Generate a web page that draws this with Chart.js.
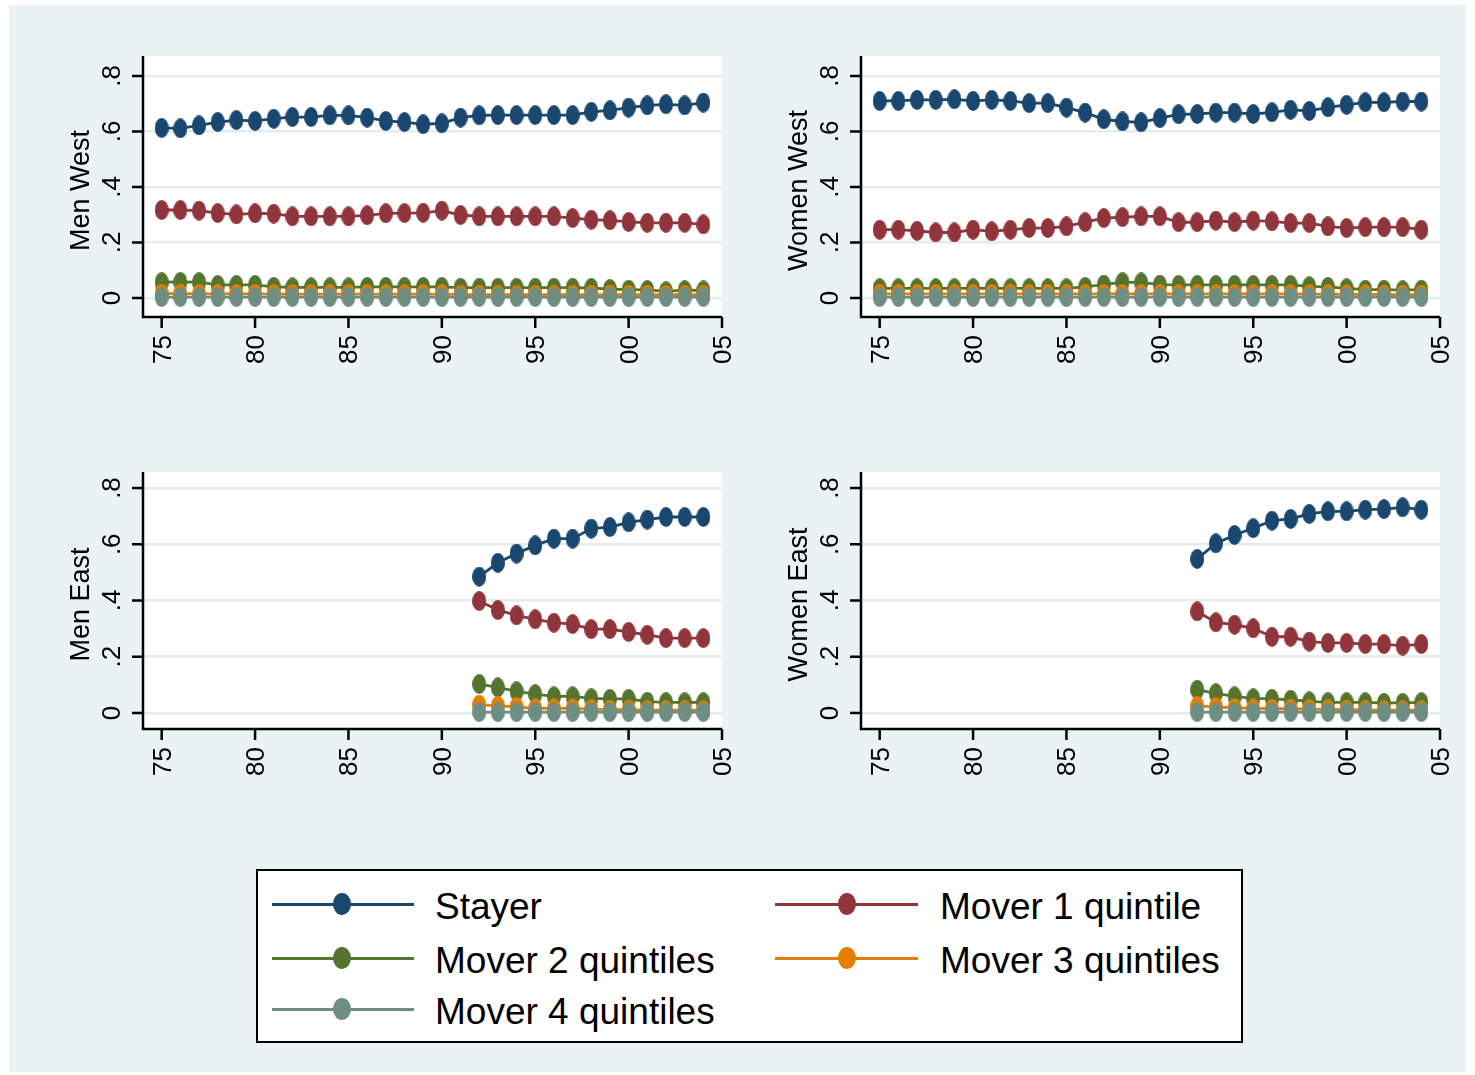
<!DOCTYPE html>
<html><head><meta charset="utf-8">
<script src="https://cdn.jsdelivr.net/npm/chart.js@4.4.1/dist/chart.umd.min.js"></script>
<style>
html,body{margin:0;padding:0;background:#fff;}
body{width:1475px;height:1075px;position:relative;overflow:hidden;font-family:"Liberation Sans",Arial,sans-serif;}
#bg{position:absolute;left:9px;top:5px;width:1457px;height:1067px;background:#EAF2F3;}
canvas{position:absolute;}
#legend{position:absolute;left:256px;top:869px;width:987px;height:174px;box-sizing:border-box;border:2px solid #000;background:#fff;}
.lg-line{position:absolute;height:3px;}
.lg-mark{position:absolute;width:18px;height:22px;border-radius:50%;}
.lg-text{position:absolute;font-size:37px;line-height:37px;white-space:nowrap;color:#000;}
</style></head>
<body>
<div id="bg"></div>
<canvas id="c1"></canvas>
<canvas id="c2"></canvas>
<canvas id="c3"></canvas>
<canvas id="c4"></canvas>
<div id="legend"></div>
<script>
// ---------- data ----------
const yearsWest = [1975,1976,1977,1978,1979,1980,1981,1982,1983,1984,1985,1986,1987,1988,1989,1990,1991,1992,1993,1994,1995,1996,1997,1998,1999,2000,2001,2002,2003,2004];
const yearsEast = [1992,1993,1994,1995,1996,1997,1998,1999,2000,2001,2002,2003,2004];
const xTickValues = [1975,1980,1985,1990,1995,2000,2005];
const xTickLabels = ["75","80","85","90","95","00","05"];
const yTickValues = [0,0.2,0.4,0.6,0.8];
const yTickLabels = ["0",".2",".4",".6",".8"];
const seriesNames = ["Stayer","Mover 1 quintile","Mover 2 quintiles","Mover 3 quintiles","Mover 4 quintiles"];
const seriesColors = ["#1a476f","#90353b","#55752f","#e37e00","#6e8e84"];

// Men West
const menWestStayer = [0.613,0.611,0.622,0.634,0.641,0.638,0.646,0.652,0.652,0.658,0.658,0.650,0.638,0.634,0.626,0.629,0.650,0.658,0.659,0.659,0.659,0.659,0.659,0.671,0.676,0.686,0.694,0.698,0.694,0.704];
const menWestMover1 = [0.317,0.317,0.315,0.306,0.301,0.305,0.304,0.294,0.294,0.294,0.294,0.298,0.305,0.306,0.307,0.315,0.299,0.294,0.294,0.294,0.294,0.294,0.288,0.282,0.280,0.274,0.271,0.271,0.271,0.265];
const menWestMover2 = [0.057,0.058,0.057,0.047,0.047,0.047,0.040,0.038,0.038,0.038,0.038,0.040,0.040,0.040,0.040,0.040,0.037,0.037,0.037,0.037,0.037,0.037,0.037,0.036,0.032,0.030,0.029,0.024,0.028,0.027];
const menWestMover3 = [0.016,0.016,0.015,0.015,0.015,0.015,0.014,0.014,0.014,0.014,0.014,0.014,0.014,0.014,0.014,0.014,0.012,0.012,0.012,0.012,0.012,0.012,0.012,0.012,0.012,0.012,0.012,0.012,0.012,0.012];
const menWestMover4 = [0.003,0.003,0.003,0.003,0.003,0.003,0.003,0.003,0.003,0.003,0.003,0.003,0.003,0.003,0.003,0.003,0.003,0.003,0.003,0.003,0.003,0.003,0.003,0.003,0.003,0.003,0.003,0.003,0.003,0.003];
// Women West
const womenWestStayer = [0.710,0.710,0.714,0.714,0.716,0.710,0.714,0.710,0.702,0.702,0.686,0.668,0.644,0.636,0.633,0.648,0.662,0.663,0.668,0.668,0.663,0.669,0.678,0.674,0.687,0.696,0.705,0.705,0.708,0.708];
const womenWestMover1 = [0.246,0.246,0.242,0.236,0.236,0.246,0.240,0.246,0.252,0.252,0.258,0.273,0.288,0.291,0.294,0.294,0.273,0.273,0.279,0.273,0.279,0.276,0.270,0.270,0.258,0.252,0.255,0.255,0.255,0.246];
const womenWestMover2 = [0.035,0.035,0.035,0.035,0.035,0.035,0.035,0.035,0.035,0.035,0.035,0.040,0.048,0.057,0.056,0.048,0.047,0.047,0.047,0.047,0.047,0.047,0.047,0.042,0.040,0.035,0.030,0.030,0.028,0.030];
const womenWestMover3 = [0.015,0.015,0.015,0.015,0.015,0.015,0.015,0.015,0.015,0.015,0.015,0.015,0.015,0.015,0.015,0.015,0.015,0.015,0.015,0.015,0.015,0.015,0.015,0.014,0.014,0.013,0.013,0.012,0.012,0.012];
const womenWestMover4 = [0.003,0.003,0.003,0.003,0.003,0.003,0.003,0.003,0.003,0.003,0.003,0.003,0.003,0.003,0.003,0.003,0.003,0.003,0.003,0.003,0.003,0.003,0.003,0.003,0.003,0.003,0.003,0.003,0.003,0.003];
// Men East
const menEastStayer = [0.485,0.534,0.567,0.596,0.620,0.620,0.656,0.661,0.678,0.688,0.697,0.697,0.697];
const menEastMover1 = [0.398,0.366,0.347,0.333,0.321,0.316,0.298,0.298,0.288,0.278,0.266,0.266,0.266];
const menEastMover2 = [0.103,0.091,0.077,0.067,0.059,0.059,0.052,0.050,0.050,0.040,0.038,0.038,0.038];
const menEastMover3 = [0.030,0.025,0.022,0.016,0.016,0.016,0.014,0.012,0.012,0.010,0.010,0.010,0.010];
const menEastMover4 = [0.003,0.003,0.003,0.003,0.003,0.003,0.003,0.003,0.003,0.003,0.003,0.003,0.003];
// Women East
const womenEastStayer = [0.548,0.603,0.633,0.657,0.684,0.690,0.708,0.717,0.717,0.723,0.725,0.731,0.723];
const womenEastMover1 = [0.361,0.322,0.314,0.301,0.271,0.271,0.254,0.249,0.249,0.245,0.245,0.239,0.245];
const womenEastMover2 = [0.083,0.070,0.059,0.052,0.050,0.047,0.041,0.038,0.038,0.038,0.036,0.036,0.038];
const womenEastMover3 = [0.025,0.022,0.018,0.016,0.015,0.015,0.014,0.013,0.012,0.011,0.010,0.010,0.010];
const womenEastMover4 = [0.003,0.003,0.003,0.003,0.003,0.003,0.003,0.003,0.003,0.003,0.003,0.003,0.003];

// ---------- styling ----------
const FONT = '"Liberation Sans", Arial, sans-serif';
function ellipseImage(color, w, h){
  const c = document.createElement('canvas'); c.width = w; c.height = h;
  const g = c.getContext('2d'); g.fillStyle = color;
  g.beginPath(); g.ellipse(w/2, h/2, w/2, h/2, 0, 0, Math.PI*2); g.fill();
  return c;
}
const markerImages = seriesColors.map(c => ellipseImage(c, 14, 20));

const stataPlugin = {
  id: 'stata',
  beforeDraw(chart){
    const a = chart.chartArea, ctx = chart.ctx;
    ctx.save(); ctx.fillStyle = '#ffffff';
    ctx.fillRect(a.left, a.top, a.right - a.left, a.bottom - a.top);
    ctx.restore();
  },
  afterDraw(chart){
    const ctx = chart.ctx, a = chart.chartArea, xs = chart.scales.x, ys = chart.scales.y;
    const title = chart.options.plugins.stata.title;
    ctx.save();
    ctx.strokeStyle = '#000'; ctx.fillStyle = '#000'; ctx.lineWidth = 2.5; ctx.lineJoin = 'miter';
    ctx.beginPath(); ctx.moveTo(a.left, a.top); ctx.lineTo(a.left, a.bottom); ctx.lineTo(a.right, a.bottom); ctx.stroke();
    ctx.font = '26px ' + FONT;
    yTickValues.forEach((v, i) => {
      const y = ys.getPixelForValue(v);
      ctx.beginPath(); ctx.moveTo(a.left - 11, y); ctx.lineTo(a.left, y); ctx.stroke();
      ctx.save(); ctx.translate(a.left - 23, y); ctx.rotate(-Math.PI/2);
      ctx.textAlign = 'center'; ctx.textBaseline = 'alphabetic'; ctx.fillText(yTickLabels[i], 0, 0); ctx.restore();
    });
    xTickValues.forEach((v, i) => {
      const x = xs.getPixelForValue(v);
      ctx.beginPath(); ctx.moveTo(x, a.bottom); ctx.lineTo(x, a.bottom + 11); ctx.stroke();
      ctx.save(); ctx.translate(x + 9, a.bottom + 18); ctx.rotate(-Math.PI/2);
      ctx.textAlign = 'right'; ctx.textBaseline = 'alphabetic'; ctx.fillText(xTickLabels[i], 0, 0); ctx.restore();
    });
    ctx.font = '27px ' + FONT;
    ctx.save(); ctx.translate(a.left - 54, (a.top + a.bottom)/2 + 4); ctx.rotate(-Math.PI/2);
    ctx.textAlign = 'center'; ctx.textBaseline = 'alphabetic'; ctx.fillText(title, 0, 0); ctx.restore();
    ctx.restore();
  }
};

function makePanel(id, title, plot, yRange, years, seriesValues){
  const cv = document.getElementById(id);
  const L = plot.left - 135, T = plot.top - 20, W = plot.right - L + 22, H = plot.bottom - T + 62;
  cv.width = W; cv.height = H; cv.style.left = L + 'px'; cv.style.top = T + 'px';
  cv.style.width = W + 'px'; cv.style.height = H + 'px';
  const datasets = seriesValues.map((vals, s) => ({
    label: seriesNames[s],
    data: years.map((yr, k) => ({x: yr, y: vals[k]})),
    borderColor: seriesColors[s], backgroundColor: seriesColors[s],
    borderWidth: 2.8, pointStyle: markerImages[s], pointRadius: 7, pointHoverRadius: 7,
    tension: 0, clip: false, order: 5 - s
  }));
  return new Chart(cv, {
    type: 'line',
    data: { datasets },
    options: {
      responsive: false, animation: false, events: [], devicePixelRatio: 1,
      layout: { autoPadding: false, padding: { left: plot.left - L, top: plot.top - T, right: L + W - plot.right, bottom: T + H - plot.bottom } },
      plugins: { legend: { display: false }, tooltip: { enabled: false }, stata: { title } },
      scales: {
        x: { type: 'linear', min: 1974, max: 2005,
             afterBuildTicks: s => { s.ticks = xTickValues.map(v => ({value: v})); },
             afterFit: s => { s.height = 0; },
             ticks: { display: false }, grid: { display: false }, border: { display: false } },
        y: { type: 'linear', min: yRange[0], max: yRange[1],
             afterBuildTicks: s => { s.ticks = yTickValues.map(v => ({value: v})); },
             afterFit: s => { s.width = 0; },
             ticks: { display: false },
             grid: { color: '#E3ECEE', lineWidth: 2.5, drawTicks: false }, border: { display: false } }
      }
    },
    plugins: [stataPlugin]
  });
}

const topRange = [-0.0685, 0.872];
const botRange = [-0.057, 0.857];
makePanel('c1', 'Men West', {left:143, top:56, right:722, bottom:317}, topRange, yearsWest,
  [menWestStayer, menWestMover1, menWestMover2, menWestMover3, menWestMover4]);
makePanel('c2', 'Women West', {left:861, top:56, right:1440, bottom:317}, topRange, yearsWest,
  [womenWestStayer, womenWestMover1, womenWestMover2, womenWestMover3, womenWestMover4]);
makePanel('c3', 'Men East', {left:143, top:472, right:722, bottom:729}, botRange, yearsEast,
  [menEastStayer, menEastMover1, menEastMover2, menEastMover3, menEastMover4]);
makePanel('c4', 'Women East', {left:861, top:472, right:1440, bottom:729}, botRange, yearsEast,
  [womenEastStayer, womenEastMover1, womenEastMover2, womenEastMover3, womenEastMover4]);

// ---------- legend ----------
const lg = document.body;
const colLine0 = [272, 775], colLine1 = [414, 918], colMark = [342, 847], colText = [435, 940];
const rowY = [904, 958, 1009];
seriesNames.forEach((name, i) => {
  const col = i % 2, row = Math.floor(i / 2), y = rowY[row];
  const ln = document.createElement('div'); ln.className = 'lg-line';
  ln.style.left = colLine0[col] + 'px'; ln.style.width = (colLine1[col] - colLine0[col]) + 'px';
  ln.style.top = (y - 1.5) + 'px'; ln.style.background = seriesColors[i]; lg.appendChild(ln);
  const mk = document.createElement('div'); mk.className = 'lg-mark';
  mk.style.left = (colMark[col] - 9) + 'px'; mk.style.top = (y - 11) + 'px'; mk.style.background = seriesColors[i]; lg.appendChild(mk);
  const tx = document.createElement('div'); tx.className = 'lg-text'; tx.textContent = name;
  tx.style.left = colText[col] + 'px'; tx.style.top = (y + 17 - 33) + 'px'; lg.appendChild(tx);
});
</script>
</body></html>
